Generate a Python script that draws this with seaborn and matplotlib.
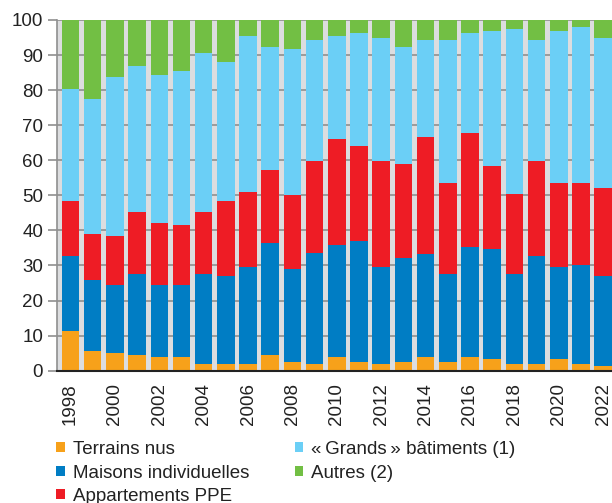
import numpy as np
import pandas as pd
import matplotlib
matplotlib.use("Agg")
import matplotlib.pyplot as plt
import seaborn as sns
from matplotlib.patches import Patch

years = list(range(1998, 2023))
terrains = [11.3, 5.7, 5.0, 4.5, 3.8, 3.8, 1.9, 1.9, 1.9, 4.5, 2.6, 1.9, 3.8,
            2.6, 1.9, 2.6, 3.8, 2.6, 3.8, 3.2, 1.9, 1.9, 3.2, 1.9, 1.3]
maisons = [21.4, 20.1, 19.5, 23.2, 20.7, 20.7, 25.8, 25.2, 27.7, 32.0, 26.3, 31.6, 32.1,
           34.5, 27.7, 29.4, 29.6, 25.1, 31.4, 31.4, 25.8, 30.8, 26.4, 28.2, 25.7]
appartements = [15.7, 13.2, 13.8, 17.6, 17.6, 17.0, 17.6, 21.3, 21.3, 20.7, 21.3, 26.2, 30.1,
                27.1, 30.1, 27.0, 33.2, 25.7, 32.6, 23.9, 22.6, 27.0, 23.8, 23.3, 25.2]
grands = [32.0, 38.4, 45.4, 41.5, 42.1, 44.0, 45.2, 39.6, 44.6, 35.2, 41.5, 34.6, 29.5,
          32.0, 35.3, 33.4, 27.7, 40.9, 28.4, 38.4, 47.1, 34.6, 43.5, 44.7, 42.8]
autres = [19.6, 22.6, 16.3, 13.2, 15.8, 14.5, 9.5, 12.0, 4.5, 7.6, 8.3, 5.7, 4.5,
          3.8, 5.0, 7.6, 5.7, 5.7, 3.8, 3.1, 2.6, 5.7, 3.1, 1.9, 5.0]

labels = ["Terrains nus", "Maisons individuelles", "Appartements PPE",
          "«\u2009Grands\u2009» bâtiments (1)", "Autres (2)"]
colors = ["#f7a11a", "#007dc4", "#ee1c25", "#6bcff6", "#72bf44"]
tick_years = [y for y in years if y % 2 == 0]

sns.set_style("white")
plt.rcParams['font.family'] = ['Liberation Sans', 'DejaVu Sans']

fig = plt.figure(figsize=(6.12, 5.03), dpi=100)
ax = fig.add_axes([57 / 612, 1 - 370.7 / 503, 1 - 57 / 612, (370.7 - 20) / 503])
ax.set_facecolor("#dcdddf")

stack = np.cumsum(np.array([terrains, maisons, appartements, grands, autres]), axis=0)
xcat = [str(y) for y in years]
for i in reversed(range(5)):
    sns.barplot(x=xcat, y=stack[i], order=xcat, color=colors[i], saturation=1,
                width=0.79, errorbar=None, edgecolor="none", linewidth=0, ax=ax, zorder=2)

ax.set_xlim(-0.61, 24.4)
ax.set_ylim(0, 100)
ax.set_yticks(range(0, 101, 10))
ax.set_xticks([years.index(y) for y in tick_years])
ax.set_xticklabels([str(y) for y in tick_years], rotation=90)
ax.set_xlabel("")
ax.set_ylabel("")
ax.yaxis.grid(True, color="#8f8f8f", linewidth=1.2)
ax.xaxis.grid(False)
ax.set_axisbelow(True)
for s in ["top", "right"]:
    ax.spines[s].set_visible(False)
ax.spines["left"].set_color("#8f8f8f")
ax.spines["left"].set_linewidth(1.2)
ax.spines["bottom"].set_color("#222222")
ax.spines["bottom"].set_linewidth(1.5)
ax.tick_params(axis="y", length=6.5, width=1.2, color="#8f8f8f", pad=3.5,
               labelsize=13.5, labelcolor="#222222", left=True)
ax.tick_params(axis="x", length=0, pad=9, labelsize=13.5, labelcolor="#222222")

handles = [Patch(facecolor=c, edgecolor="none") for c in colors]
fig.legend(handles, labels, ncol=2, loc="upper left", bbox_to_anchor=(0.092, 0.123),
           frameon=False, fontsize=13.5, handlelength=0.45, handleheight=0.45,
           handletextpad=0.45, columnspacing=2.4, labelspacing=0.34,
           borderpad=0, borderaxespad=0, labelcolor="#222222")

fig.savefig("out.png", dpi=100)
